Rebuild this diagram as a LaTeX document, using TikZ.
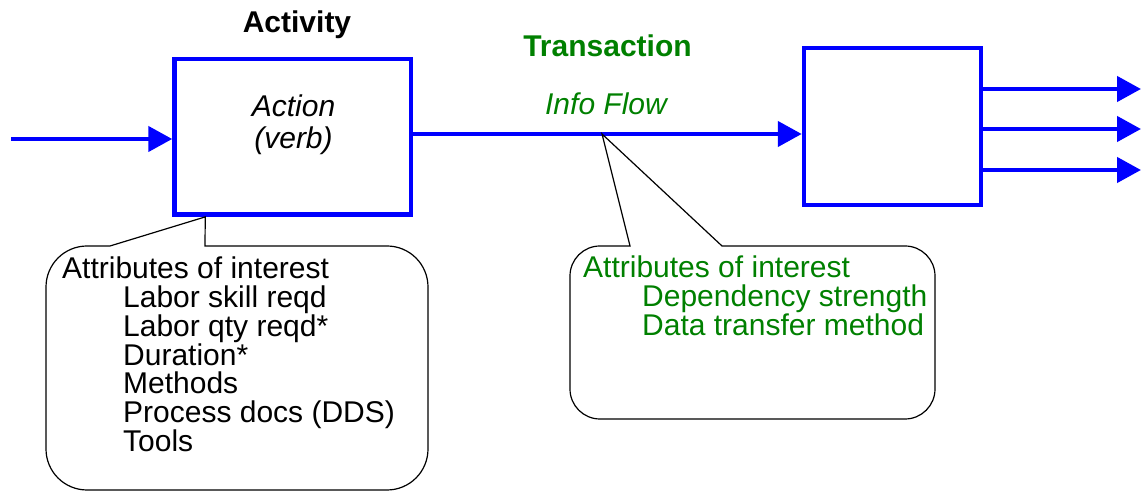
\documentclass[tikz,border=0pt]{standalone}
\usepackage{fontspec}
\setmainfont{Liberation Sans}
\usetikzlibrary{arrows.meta,calc}
\definecolor{flowblue}{RGB}{0,0,255}
\definecolor{txgreen}{RGB}{0,128,0}
% one line of a stacked attribute list, optionally indented
\newcommand{\attline}[1]{\hbox{#1}}
\newcommand{\subline}[2][61pt]{\hbox{\hspace*{#1}#2}}

\begin{document}
\begin{tikzpicture}[x=1pt,y=1pt,
  font=\fontsize{30}{28.7}\selectfont,
  block/.style={draw=flowblue, line width=4.5pt, inner sep=0pt, fill=white},
  flow/.style={draw=flowblue, line width=4.5pt, -{Triangle[length=24pt,width=25pt,fill=flowblue]}},
  bubble/.style={draw=black, line width=1.2pt, line join=miter},
  title/.style={font=\fontsize{30}{36}\selectfont\bfseries, anchor=base, inner sep=0pt},
  label/.style={font=\fontsize{30}{36}\selectfont\itshape, anchor=base, inner sep=0pt},
  listtext/.style={anchor=base west, inner sep=0pt}
]
\useasboundingbox (0,0) rectangle (1141,492);

% process boxes
\node[block, minimum width=236.5pt, minimum height=155.7pt] (b1) at (292.75,355.2) {};
\node[block, minimum width=177pt, minimum height=156.8pt] (b2) at (892.5,365.4) {};

% headings and labels
\node[title] (activity) at (297,459.5) {Activity};
\node[title, txgreen] (transaction) at (607.5,435) {Transaction};
\node[label, txgreen] (infoflow) at (606,377) {Info Flow};
\node[label] (action) at (293.5,375) {Action};
\node[label] (verb) at (293.5,343) {(verb)};

% connector anchor points
\coordinate (in) at (11,353);
\coordinate (mid) at (602,358);
\coordinate (o1) at (1141,403);
\coordinate (o2) at (1141,363);
\coordinate (o3) at (1141,322);
\coordinate (lt) at ($(b1.south west)+(33,0)$);

% flows
\draw[flow] (in) -- (in -| b1.west);
\draw[flow] (mid -| b1.east) -- (mid -| b2.west);
\draw[flow] (o1 -| b2.east) -- (o1);
\draw[flow] (o2 -| b2.east) -- (o2);
\draw[flow] (o3 -| b2.east) -- (o3);

% callout attached to the activity box
\draw[bubble] (110,246) -- (lt) -- (205,246) -- (387,246)
  arc[start angle=90,end angle=0,radius=41] -- (428,43)
  arc[start angle=0,end angle=-90,radius=41] -- (87,2)
  arc[start angle=-90,end angle=-180,radius=41] -- (46,205)
  arc[start angle=180,end angle=90,radius=41] -- cycle;

% callout attached to the info flow
\draw[bubble] (630,246) -- (mid) -- (722,246) -- (905,246)
  arc[start angle=90,end angle=0,radius=30] -- (935,103)
  arc[start angle=0,end angle=-90,radius=30] -- (600,73)
  arc[start angle=-90,end angle=-180,radius=30] -- (570,216)
  arc[start angle=180,end angle=90,radius=30] -- cycle;

% attribute lists
\node[listtext] (actattr) at (62,213) {\vtop{%
  \attline{Attributes of interest}
  \subline{Labor skill reqd}
  \subline{Labor qty reqd*}
  \subline{Duration*}
  \subline{Methods}
  \subline{Process docs (DDS)}
  \subline{Tools}}};
\node[listtext, txgreen] (flowattr) at (583,214) {\vtop{%
  \attline{Attributes of interest}
  \subline[59pt]{Dependency strength}
  \subline[59pt]{Data transfer method}}};
\end{tikzpicture}
\end{document}
